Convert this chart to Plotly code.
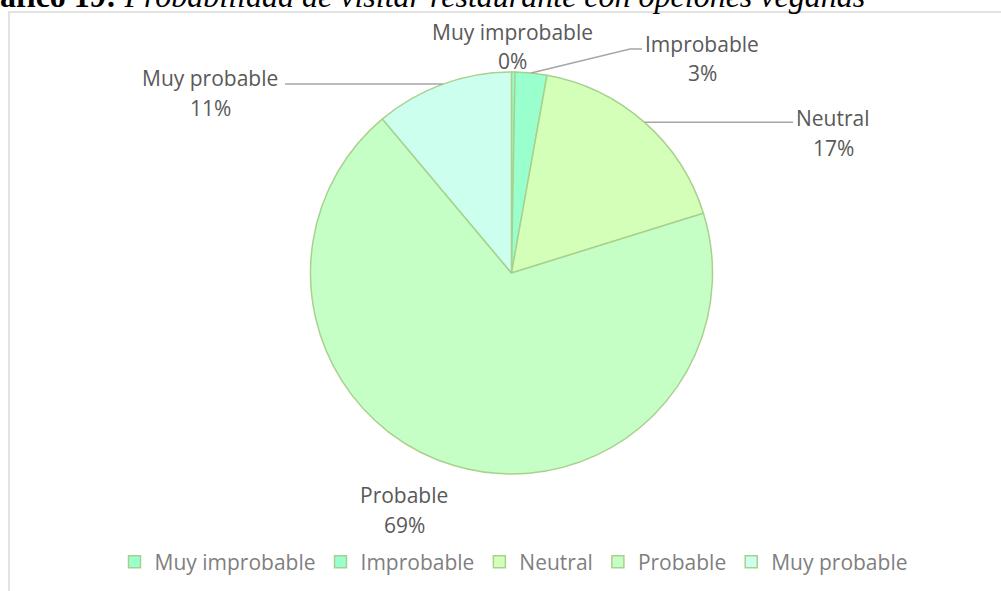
import math
import plotly.graph_objects as go

# datos (porcentaje de respuestas)
categorias = ["Muy improbable", "Improbable", "Neutral", "Probable", "Muy probable"]
valores = [0.28, 2.55, 17.37, 68.7, 11.1]
colores = ["#99FFCC", "#99FFCC", "#D3FFB9", "#C6FFC6", "#CCFFEE"]

W, H = 1001, 591
CX, CY, R = 511.5, 273, 201


def px(x):
    return x / W


def py(y):
    return 1 - y / H


fig = go.Figure()
fig.add_trace(go.Pie(
    labels=categorias, values=valores, sort=False, direction="clockwise",
    rotation=0, textinfo="none", hoverinfo="label+percent",
    marker=dict(colors=colores, line=dict(color="#A9D18E", width=1.5)),
    domain=dict(x=[px(CX - R), px(CX + R)], y=[py(CY + R), py(CY - R)]),
))

# puntos de anclaje en el borde (mitad de cada sector)
total = sum(valores)
acum = 0
bordes = []
for v in valores:
    ang = 2 * math.pi * (acum + v / 2) / total
    bordes.append((CX + R * math.sin(ang), CY - R * math.cos(ang)))
    acum += v

pct = [f"{round(v / total * 100)}%" for v in valores]
# centro de cada etiqueta: (x, y linea 1, y linea 2)
pos_etiquetas = [(512, 32, 61), (702, 44, 73), (833, 118, 148), (404, 495, 525), (210, 78, 108)]
for cat, p, (x, y1, y2) in zip(categorias, pct, pos_etiquetas):
    for t, y in ((cat, y1), (p, y2)):
        fig.add_annotation(x=px(x), y=py(y), xref="paper", yref="paper",
                           xanchor="center", yanchor="middle",
                           text=t, showarrow=False,
                           font=dict(family="Open Sans", size=21, color="#595959"))

lc = dict(color="#A6A6A6", width=1.5)
ex, ey = bordes[1]
fig.add_shape(type="path", xref="paper", yref="paper", line=lc,
              path=f"M {px(642)},{py(49)} L {px(630)},{py(49)} L {px(ex)},{py(ey)}")
ex, ey = bordes[2]
fig.add_shape(type="line", xref="paper", yref="paper", line=lc,
              x0=px(ex), y0=py(ey), x1=px(793), y1=py(ey))
ex, ey = bordes[4]
fig.add_shape(type="line", xref="paper", yref="paper", line=lc,
              x0=px(285), y0=py(ey), x1=px(ex), y1=py(ey))

# marco del gráfico
fig.add_shape(type="rect", xref="paper", yref="paper",
              x0=px(9), y0=-0.05, x1=1.05, y1=py(12),
              line=dict(color="#D9D9D9", width=1.5))

# título (recortado arriba como en el original)
fig.add_annotation(x=px(867), y=py(-4), xref="paper", yref="paper",
                   xanchor="right", yanchor="middle", showarrow=False,
                   text="<b>Gráfico 19:</b> <i>Probabilidad de visitar restaurante con opciones veganas</i>",
                   font=dict(family="Liberation Serif", size=32, color="#000000"))

fig.update_layout(
    width=W, height=H, margin=dict(l=0, r=0, t=0, b=0),
    paper_bgcolor="white", plot_bgcolor="white",
    showlegend=True,
    legend=dict(orientation="h", x=0.513, xanchor="center", y=py(562), yanchor="middle",
                font=dict(family="Open Sans", size=21, color="#7F7F7F"),
                itemwidth=30, traceorder="normal"),
)

fig.write_html("out.html", config={"displayModeBar": False},
               post_script="document.body.style.margin='0';document.body.style.overflow='hidden';")
